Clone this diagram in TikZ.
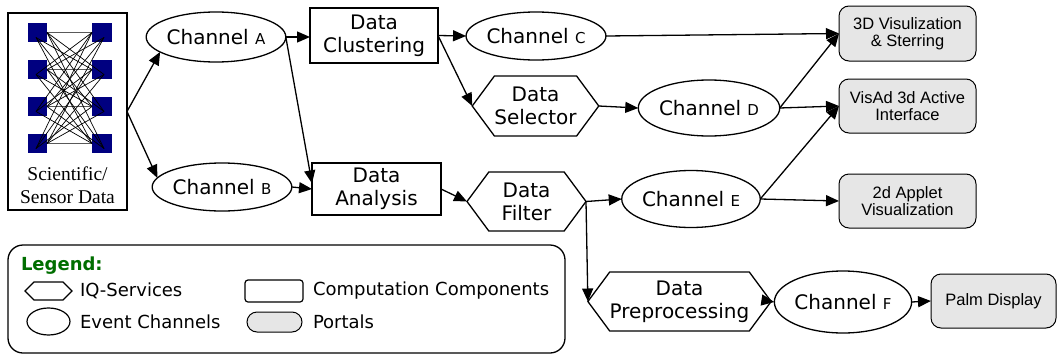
\documentclass[tikz,border=0pt]{standalone}
\usepackage{fontspec}
\usetikzlibrary{shapes.geometric,shapes.symbols,arrows.meta}
\newfontfamily\verd{DejaVu Sans}
\newfontfamily\aria{Liberation Sans}
\newfontfamily\tms{Liberation Serif}
\definecolor{portalgray}{RGB}{230,230,230}
\definecolor{legendgreen}{RGB}{0,110,0}
\definecolor{sqblue}{RGB}{0,0,128}
\newcommand\chsub[1]{{\fontsize{15}{15}\selectfont #1}}

\begin{document}
\begin{tikzpicture}[x=1pt,y=-1pt,
  every node/.style={inner sep=0pt, outer sep=0pt},
  conn/.style={line width=1.3pt, -{Triangle[length=13pt,width=11pt]}},
  mainfont/.style={font=\verd\fontsize{20}{23}\selectfont},
  chan/.style={draw, line width=1.3pt, ellipse, mainfont, minimum width=122pt, minimum height=50pt},
  comp/.style={draw, line width=1.3pt, rectangle, align=center, mainfont},
  iqsvc/.style={draw, line width=1.3pt, signal, signal to=east and west,
    signal pointer angle=107, align=center, mainfont},
  portal/.style={draw, line width=1pt, rounded corners=10pt, fill=portalgray,
    align=center, font=\aria\fontsize{16.5}{17.5}\selectfont},
  legtext/.style={anchor=west, font=\verd\fontsize{18}{20}\selectfont},
]
\useasboundingbox (0,0) rectangle (1059,356);

% sensor data source: box with a small network pictogram
\node[draw, line width=1.3pt, minimum width=119pt, minimum height=197pt] (sensor) at (67.5,111.5) {};
\node[font=\tms\fontsize{19.5}{23}\selectfont, align=center] (sensortxt) at (67.5,185) {Scientific/\\Sensor Data};
\foreach \y in {32.5,69.5,106.5,143.5}{
  \fill[sqblue] (28,\y-9.5) rectangle (47,\y+9.5);
  \fill[sqblue] (92,\y-9.5) rectangle (112,\y+9.5);
  \draw[black!65, line width=0.8pt] (47,\y) -- (92,\y);
}
\foreach \a in {32.5,69.5,106.5,143.5}{
  \foreach \b in {32.5,69.5,106.5,143.5}{
    \ifdim \a pt=\b pt\else
      \draw[line width=0.7pt] (47,\a) -- (104,\b+5);
      \draw[line width=0.7pt] (92,\a) -- (36,\b+5);
    \fi
  }
}

% event channels
\node[chan] (chA) at (216,37) {Channel \chsub{A}};
\node[chan, minimum width=118pt, minimum height=48pt] (chB) at (222,187) {Channel \chsub{B}};
\node[chan, minimum height=48pt] (chC) at (536,36) {Channel \chsub{C}};
\node[chan, minimum width=121pt, minimum height=56pt] (chD) at (709,108) {Channel \chsub{D}};
\node[chan, minimum width=121pt, minimum height=57pt] (chE) at (691,199) {Channel \chsub{E}};
\node[chan, minimum width=120pt, minimum height=62pt] (chF) at (843,302) {Channel \chsub{F}};

% computation components
\node[comp, minimum width=128pt, minimum height=55pt] (clus) at (374,35.5) {Data\\Clustering};
\node[comp, minimum width=129pt, minimum height=52pt] (anal) at (376.5,189) {Data\\Analysis};

% IQ-services
\node[iqsvc, minimum width=119pt, minimum height=60pt] (sel) at (535.5,106) {Data\\Selector};
\node[iqsvc, minimum width=119pt, minimum height=59pt] (filt) at (526.5,201.5) {Data\\Filter};
\node[iqsvc, minimum width=159pt, minimum height=59pt] (prep) at (679.5,301.5) {Data\\Preprocessing};

% portals
\node[portal, minimum width=137pt, minimum height=55pt] (p1) at (907.5,33.5) {3D Visulization\\\& Sterring};
\node[portal, minimum width=137pt, minimum height=54pt] (p2) at (907.5,106) {VisAd 3d Active\\Interface};
\node[portal, minimum width=137pt, minimum height=54pt] (p3) at (907.5,201) {2d Applet\\Visualization};
\node[portal, minimum width=125pt, minimum height=54pt] (palm) at (993.5,301) {Palm Display};

% connectors
\draw[conn] (sensor.east) -- (chA.195);
\draw[conn] (sensor.east) -- (chB.172);
\draw[conn] (chA.east) -- (chA.east -| clus.west);
\draw[conn] (chA.east) -- (anal.175);
\draw[conn] (chB.east) -- (anal.west);
\draw[conn] (clus.east) -- (chC.west);
\draw[conn] (clus.east) -- (sel.west);
\draw[conn] (chC.east) -- (p1.west);
\draw[conn] (sel.east) -- (chD.west);
\draw[conn] (chD.east) -- (p1.west);
\draw[conn] (chD.east) -- (p2.west);
\draw[conn] (chE.east) -- (p2.west);
\draw[conn] (chE.east) -- (p3.west);
\draw[conn] (anal.east) -- (filt.west);
\draw[conn] (filt.east) -- (chE.west);
\draw[conn] (filt.east) -- (prep.west);
\draw[conn] (prep.east) -- (chF.west);
\draw[conn] (chF.east) -- (palm.west);

% legend
\node[draw, line width=1.3pt, rounded corners=15pt, minimum width=557pt, minimum height=108pt] (legend) at (286.5,299) {};
\node[anchor=west, font=\verd\bfseries\fontsize{18}{20}\selectfont, text=legendgreen] (legtitle) at (21,266) {Legend:};
\node[draw, line width=1.2pt, signal, signal to=east and west, signal pointer angle=90,
  minimum width=47pt, minimum height=18pt] (lgiq) at (48.5,291) {};
\node[legtext] (lgiqt) at (80,291) {IQ-Services};
\node[draw, line width=1.2pt, ellipse, minimum width=43pt, minimum height=27pt] (lgch) at (48.5,321.5) {};
\node[legtext] (lgcht) at (80,322) {Event Channels};
\node[draw, line width=1.2pt, rounded corners=3pt, minimum width=58pt, minimum height=22pt] (lgcomp) at (274,291) {};
\node[legtext] (lgcompt) at (313,291) {Computation Components};
\node[draw, line width=1pt, rounded corners=10pt, fill=portalgray, minimum width=55pt, minimum height=20pt] (lgport) at (274.5,322) {};
\node[legtext] (lgportt) at (313,322) {Portals};
\end{tikzpicture}
\end{document}
